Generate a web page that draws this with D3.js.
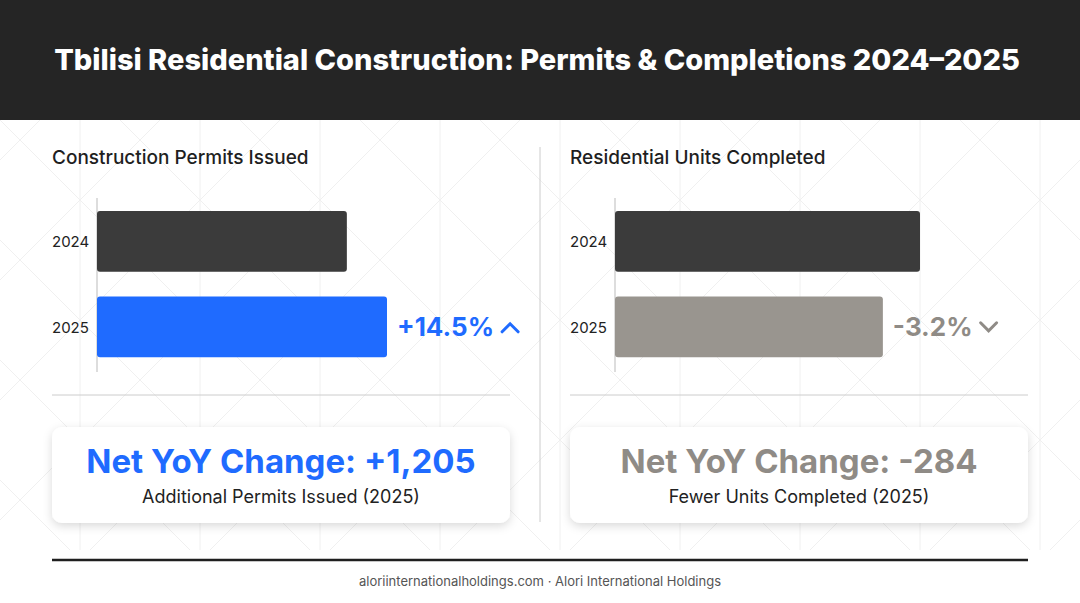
<!DOCTYPE html>
<html lang="en">
<head>
<meta charset="UTF-8" />
<title>Tbilisi Residential Construction</title>
<script src="https://cdn.jsdelivr.net/npm/d3@7/dist/d3.min.js"></script>
<style>
  body { margin: 0; background: #fff; }
  svg { display: block; font-family: Inter, "Noto Sans", sans-serif; }
  .title { fill: #fff; font-size: 29px; font-weight: 800; }
  .panel-title { fill: #1f1f1f; font-size: 19px; font-weight: 500; }
  .tick-label { fill: #222; font-size: 15px; }
  .pct { font-size: 26px; font-weight: 700; }
  .net { font-size: 33px; font-weight: 700; }
  .sub { fill: #222; font-size: 18px; }
  .foot { fill: #555; font-size: 13px; }
</style>
</head>
<body>
<script>
var w = 1080, h = 603;

// data
var years = ["2024", "2025"];
var permits = [8310, 9515];
var units = [8875, 8591];
var pctLabels = ["+14.5%", "-3.2%"];
var netLabels = ["Net YoY Change: +1,205", "Net YoY Change: -284"];
var subLabels = ["Additional Permits Issued (2025)", "Fewer Units Completed (2025)"];
var panelTitles = ["Construction Permits Issued", "Residential Units Completed"];

var svg = d3.select("body").append("svg").attr("width", w).attr("height", h);

// faint lattice background
var defs = svg.append("defs");
var pat = defs.append("pattern").attr("id", "lat").attr("patternUnits", "userSpaceOnUse")
  .attr("width", 120).attr("height", 120).attr("x", 20).attr("y", 140);
pat.append("path").attr("d", "M0,0 L60,60 L0,120 M120,0 L60,60 L120,120 M60,0 L60,120")
  .attr("stroke", "#f0f0f0").attr("stroke-width", 1).attr("fill", "none");
var sh = defs.append("filter").attr("id", "sh").attr("x", "-10%").attr("y", "-20%").attr("width", "120%").attr("height", "150%");
sh.append("feDropShadow").attr("dx", 0).attr("dy", 3).attr("stdDeviation", 5).attr("flood-color", "#000").attr("flood-opacity", 0.15);

svg.append("rect").attr("x", 0).attr("y", 120).attr("width", w).attr("height", 430).attr("fill", "url(#lat)");

// header
svg.append("rect").attr("width", w).attr("height", 120).attr("fill", "#252525");
svg.append("text").attr("class", "title").attr("x", 537).attr("y", 70).attr("text-anchor", "middle")
  .text("Tbilisi Residential Construction: Permits & Completions 2024\u20132025");

// divider
svg.append("line").attr("x1", 540).attr("x2", 540).attr("y1", 147).attr("y2", 522).attr("stroke", "#ccc");

var panels = [
  { x0: 52, data: permits, domain: [810, 9515], range: [0, 290], colors: ["#3b3b3b", "#1f6bff"], accent: "#1f6bff", up: true },
  { x0: 570, data: units, domain: [6542, 8875], range: [0, 305], colors: ["#3b3b3b", "#99958f"], accent: "#8f8b86", up: false }
];

panels.forEach(function(p, i) {
  var g = svg.append("g").attr("transform", "translate(" + p.x0 + ",0)");
  g.append("text").attr("class", "panel-title").attr("x", 0).attr("y", 164).text(panelTitles[i]);

  var x = d3.scaleLinear().domain(p.domain).range(p.range);
  var y = d3.scaleBand().domain(years).range([202.4, 365.7]).paddingInner(0.29).paddingOuter(0.1);
  var bx = 45;

  g.append("line").attr("x1", bx).attr("x2", bx).attr("y1", 198).attr("y2", 372).attr("stroke", "#bbb");

  g.selectAll(".bar").data(p.data).enter().append("rect")
    .attr("x", bx).attr("y", function(d, j) { return y(years[j]); })
    .attr("width", function(d) { return x(d); })
    .attr("height", y.bandwidth()).attr("rx", 3)
    .attr("fill", function(d, j) { return p.colors[j]; });

  g.selectAll(".yl").data(years).enter().append("text").attr("class", "tick-label")
    .attr("x", 0).attr("y", function(d) { return y(d) + y.bandwidth() / 2 + 6; }).text(function(d) { return d; });

  var lx = bx + x(p.data[1]) + 10, ly = y("2025") + y.bandwidth() / 2;
  var t = g.append("text").attr("class", "pct").attr("fill", p.accent)
    .attr("x", lx).attr("y", ly + 9).text(pctLabels[i]);
  var tw = t.node().getComputedTextLength();
  var cx = lx + tw + 16;
  g.append("path").attr("fill", "none").attr("stroke", p.accent).attr("stroke-width", 3).attr("stroke-linecap", "round")
    .attr("d", p.up ? "M" + (cx - 8) + "," + (ly + 5) + " L" + cx + "," + (ly - 3) + " L" + (cx + 8) + "," + (ly + 5)
                    : "M" + (cx - 8) + "," + (ly - 4) + " L" + cx + "," + (ly + 4) + " L" + (cx + 8) + "," + (ly - 4));

  g.append("line").attr("x1", 0).attr("x2", 458).attr("y1", 395).attr("y2", 395).attr("stroke", "#ccc");

  g.append("rect").attr("x", 0).attr("y", 427).attr("width", 458).attr("height", 96).attr("rx", 10)
    .attr("fill", "#fff").attr("filter", "url(#sh)");
  g.append("text").attr("class", "net").attr("fill", p.accent).attr("x", 229).attr("y", 473)
    .attr("text-anchor", "middle").text(netLabels[i]);
  g.append("text").attr("class", "sub").attr("x", 229).attr("y", 503)
    .attr("text-anchor", "middle").text(subLabels[i]);
});

// footer
svg.append("rect").attr("x", 0).attr("y", 550).attr("width", w).attr("height", 53).attr("fill", "#fff");
svg.append("line").attr("x1", 52).attr("x2", 1028).attr("y1", 560).attr("y2", 560).attr("stroke", "#1f1f1f").attr("stroke-width", 2.5);
svg.append("text").attr("class", "foot").attr("x", w / 2).attr("y", 586).attr("text-anchor", "middle")
  .text("aloriinternationalholdings.com \u00b7 Alori International Holdings");
</script>
</body>
</html>
